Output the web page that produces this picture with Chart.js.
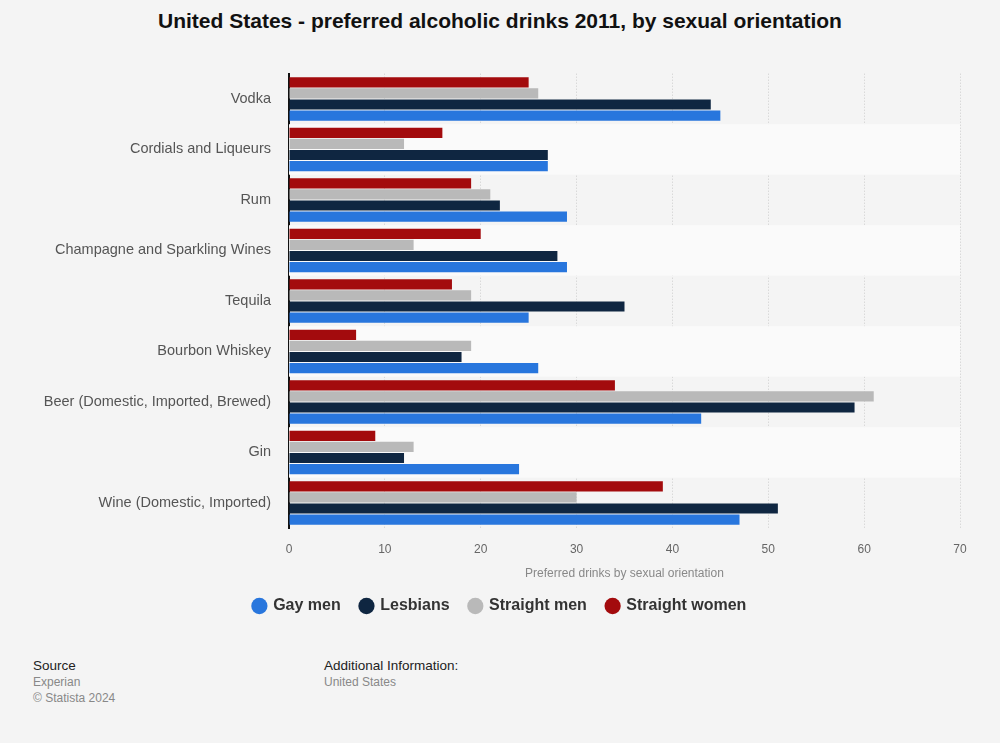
<!DOCTYPE html>
<html lang="en">
<head>
    <meta charset="UTF-8">
    <title>United States - preferred alcoholic drinks 2011, by sexual orientation</title>
    <script src="https://cdn.jsdelivr.net/npm/chart.js"></script>
    <style>
        body {
            margin: 0;
            width: 1000px;
            height: 743px;
            background: #f4f4f4;
            font-family: "Liberation Sans", Arial, sans-serif;
            position: relative;
            overflow: hidden;
        }
        h1 {
            position: absolute;
            top: 9px;
            left: 0;
            width: 1000px;
            margin: 0;
            text-align: center;
            font-size: 21px;
            font-weight: bold;
            color: #111;
        }
        #chart-container {
            position: absolute;
            left: 0;
            top: 47px;
            width: 1000px;
            height: 577px;
        }
        .foot {
            position: absolute;
            top: 658px;
            font-size: 12px;
            line-height: 16px;
            color: #888;
        }
        .foot b {
            font-weight: normal;
            font-size: 13.5px;
            color: #222;
        }
    </style>
</head>
<body>
    <h1>United States - preferred alcoholic drinks 2011, by sexual orientation</h1>

    <div id="chart-container">
        <canvas id="drinksChart"></canvas>
    </div>

    <div class="foot" style="left:33px"><b>Source</b><br>Experian<br>© Statista 2024</div>
    <div class="foot" style="left:324px"><b>Additional Information:</b><br>United States</div>

    <script>
        const categories = [
            'Vodka',
            'Cordials and Liqueurs',
            'Rum',
            'Champagne and Sparkling Wines',
            'Tequila',
            'Bourbon Whiskey',
            'Beer (Domestic, Imported, Brewed)',
            'Gin',
            'Wine (Domestic, Imported)'
        ];
        const gayMen = [45, 27, 29, 29, 25, 26, 43, 24, 47];
        const lesbians = [44, 27, 22, 28, 35, 18, 59, 12, 51];
        const straightMen = [26, 12, 21, 13, 19, 19, 61, 13, 30];
        const straightWomen = [25, 16, 19, 20, 17, 7, 34, 9, 39];
        const xTicks = [0, 10, 20, 30, 40, 50, 60, 70];

        const font = '"Liberation Sans", Arial, sans-serif';

        // alternating row stripes behind the bars
        const stripes = {
            id: 'stripes',
            beforeDatasetsDraw(chart) {
                const { ctx, chartArea, scales } = chart;
                const y = scales.y;
                const row = (y.getPixelForValue(1) - y.getPixelForValue(0));
                ctx.save();
                categories.forEach((c, i) => {
                    if (i % 2 === 1) {
                        const mid = y.getPixelForValue(i);
                        ctx.fillStyle = '#fafafa';
                        ctx.fillRect(chartArea.left, mid - row / 2, chartArea.right - chartArea.left, row);
                    }
                });
                ctx.restore();
            }
        };

        const ctx = document.getElementById('drinksChart').getContext('2d');
        new Chart(ctx, {
            type: 'bar',
            data: {
                labels: categories,
                datasets: [
                    { label: 'Straight women', data: straightWomen, backgroundColor: '#a30b0d' },
                    { label: 'Straight men', data: straightMen, backgroundColor: '#b9b9b9' },
                    { label: 'Lesbians', data: lesbians, backgroundColor: '#0f2641' },
                    { label: 'Gay men', data: gayMen, backgroundColor: '#2876dd' }
                ]
            },
            options: {
                indexAxis: 'y',
                responsive: true,
                maintainAspectRatio: false,
                animation: false,
                layout: { padding: { top: 13, right: 40, left: 40, bottom: 0 } },
                datasets: {
                    bar: { categoryPercentage: 0.88, barPercentage: 0.92 }
                },
                plugins: {
                    legend: {
                        position: 'bottom',
                        reverse: true,
                        labels: {
                            usePointStyle: true,
                            pointStyle: 'circle',
                            boxWidth: 11.5,
                            boxHeight: 11.5,
                            padding: 20,
                            color: '#333',
                            font: { family: font, size: 16, weight: 'bold' }
                        }
                    },
                    tooltip: { enabled: false }
                },
                scales: {
                    x: {
                        min: 0,
                        max: 70,
                        afterBuildTicks(scale) {
                            scale.ticks = xTicks.map(v => ({ value: v }));
                        },
                        grid: { color: '#cccccc', lineWidth: 1, drawTicks: false },
                        border: { display: false, dash: [1, 2] },
                        ticks: {
                            padding: 14,
                            color: '#666',
                            font: { family: font, size: 12 }
                        },
                        title: {
                            display: true,
                            text: 'Preferred drinks by sexual orientation',
                            color: '#888',
                            padding: { top: -4, bottom: -3 },
                            font: { family: font, size: 12 }
                        }
                    },
                    y: {
                        afterFit(scale) { scale.width = 249; },
                        grid: { display: false, drawTicks: false },
                        border: { display: true, color: '#111', width: 2 },
                        ticks: {
                            padding: 18,
                            color: '#555',
                            font: { family: font, size: 14.5 }
                        }
                    }
                }
            },
            plugins: [stripes]
        });
    </script>
</body>
</html>
